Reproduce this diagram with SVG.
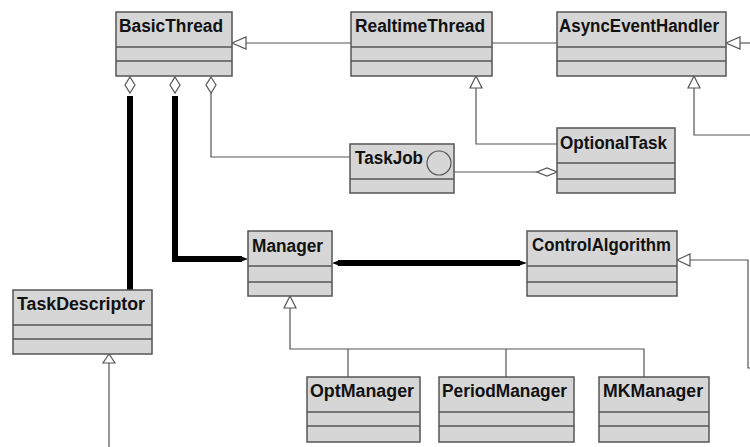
<svg xmlns="http://www.w3.org/2000/svg" width="750" height="447" viewBox="0 0 750 447">
<defs>
<style>
.box{fill:#d6d6d6;stroke:#555;stroke-width:1.5}
.div{stroke:#555;stroke-width:1.5}
.t{font-family:"Liberation Sans",Arial,sans-serif;font-weight:bold;font-size:18px;fill:#111}
.ln{fill:none;stroke:#555;stroke-width:1.2}
.thick{fill:none;stroke:#000;stroke-width:6;stroke-linejoin:miter}
.tri{fill:#fff;stroke:#555;stroke-width:1.2}
.dia{fill:#fff;stroke:#555;stroke-width:1.2}
</style>
</defs>
<rect width="750" height="447" fill="#fff"/>
<g id="connectors">
<path class="ln" d="M246 43 H351"/>
<polygon class="tri" points="232,43 246,37 246,49"/>
<path class="ln" d="M492 43 H557"/>
<path class="ln" d="M740 43 H750"/>
<polygon class="tri" points="726,43 740,37 740,49"/>
<path class="ln" d="M476 88 V144 H557"/>
<polygon class="tri" points="476,76 470,88 482,88"/>
<path class="ln" d="M694 88 V135 H750"/>
<polygon class="tri" points="694,76 688,88 700,88"/>
<path class="ln" d="M211 93 V157 H350"/>
<polygon class="dia" points="211,77 216,85 211,93 206,85"/>
<polygon class="dia" points="130,77 135,85 130,93 125,85"/>
<path class="thick" d="M130 96 V290"/>
<polygon class="dia" points="175,77 180,85 175,93 170,85"/>
<path class="thick" d="M175 96 V259 H242"/>
<path d="M240 256 L248 259 L240 262 Z" fill="#000"/>
<path class="thick" d="M338 263 H520"/>
<path d="M340 260 L332 263 L340 266 Z M518 260 L527 263 L518 266 Z" fill="#000"/>
<path class="ln" d="M454 172 H537"/>
<polygon class="dia" points="557,172 547,176 537,172 547,168"/>
<path class="ln" d="M690 260 H748 V368 H750"/>
<polygon class="tri" points="677,260 690,254 690,266"/>
<polygon class="tri" points="290,296 284,308 296,308"/>
<path class="ln" d="M290 308 V349 H644 V377 M348 349 V377 M506 349 V377"/>
<polygon class="tri" points="109,354 103,363 115,363"/>
<path class="ln" d="M109 363 V447"/>
</g>
<g id="BasicThread">
<rect class="box" x="116" y="12" width="116" height="64"/>
<path class="div" d="M116 47 H232 M116 61 H232"/>
<text class="t" x="119" y="32" textLength="104" lengthAdjust="spacingAndGlyphs">BasicThread</text>
</g>
<g id="RealtimeThread">
<rect class="box" x="351" y="12" width="141" height="64"/>
<path class="div" d="M351 47 H492 M351 61 H492"/>
<text class="t" x="355" y="32" textLength="130" lengthAdjust="spacingAndGlyphs">RealtimeThread</text>
</g>
<g id="AsyncEventHandler">
<rect class="box" x="557" y="12" width="169" height="64"/>
<path class="div" d="M557 47 H726 M557 61 H726"/>
<text class="t" x="559" y="32" textLength="160" lengthAdjust="spacingAndGlyphs">AsyncEventHandler</text>
</g>
<g id="TaskJob">
<rect class="box" x="350" y="144" width="104" height="49"/>
<path class="div" d="M350 179 H454"/>
<circle cx="439" cy="163" r="12" fill="none" stroke="#555" stroke-width="1.2"/>
<text class="t" x="355" y="164" textLength="68" lengthAdjust="spacingAndGlyphs">TaskJob</text>
</g>
<g id="OptionalTask">
<rect class="box" x="557" y="128" width="118" height="65"/>
<path class="div" d="M557 163 H675 M557 179 H675"/>
<text class="t" x="560" y="149" textLength="107" lengthAdjust="spacingAndGlyphs">OptionalTask</text>
</g>
<g id="Manager">
<rect class="box" x="248" y="231" width="84" height="65"/>
<path class="div" d="M248 266 H332 M248 282 H332"/>
<text class="t" x="252" y="252" textLength="71" lengthAdjust="spacingAndGlyphs">Manager</text>
</g>
<g id="ControlAlgorithm">
<rect class="box" x="527" y="231" width="150" height="65"/>
<path class="div" d="M527 266 H677 M527 282 H677"/>
<text class="t" x="532" y="251" textLength="139" lengthAdjust="spacingAndGlyphs">ControlAlgorithm</text>
</g>
<g id="TaskDescriptor">
<rect class="box" x="13" y="290" width="139" height="64"/>
<path class="div" d="M13 325 H152 M13 339 H152"/>
<text class="t" x="17" y="310" textLength="128" lengthAdjust="spacingAndGlyphs">TaskDescriptor</text>
</g>
<g id="OptManager">
<rect class="box" x="307" y="377" width="113" height="65"/>
<path class="div" d="M307 412 H420 M307 426 H420"/>
<text class="t" x="310" y="397" textLength="104" lengthAdjust="spacingAndGlyphs">OptManager</text>
</g>
<g id="PeriodManager">
<rect class="box" x="439" y="377" width="135" height="65"/>
<path class="div" d="M439 412 H574 M439 426 H574"/>
<text class="t" x="442" y="397" textLength="125" lengthAdjust="spacingAndGlyphs">PeriodManager</text>
</g>
<g id="MKManager">
<rect class="box" x="599" y="377" width="110" height="65"/>
<path class="div" d="M599 412 H709 M599 426 H709"/>
<text class="t" x="603" y="397" textLength="100" lengthAdjust="spacingAndGlyphs">MKManager</text>
</g>
</svg>
